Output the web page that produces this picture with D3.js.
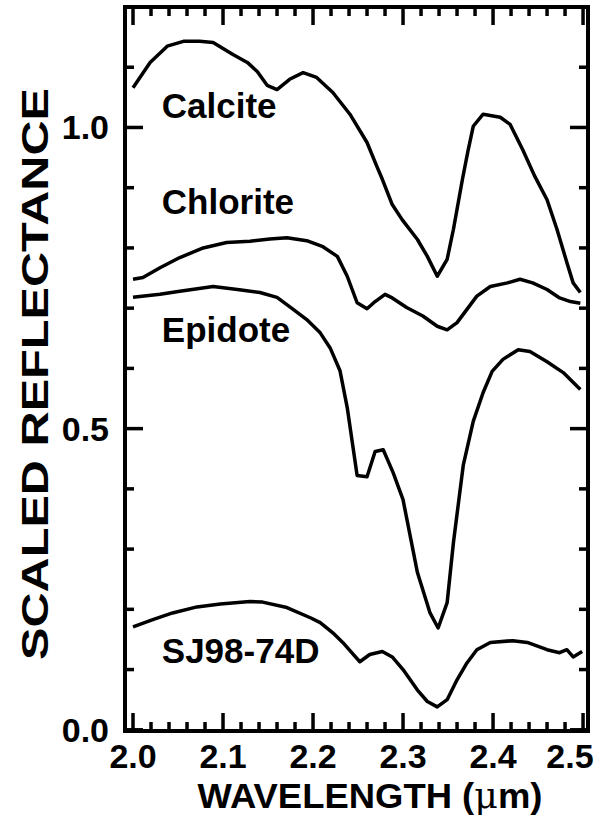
<!DOCTYPE html>
<html>
<head>
<meta charset="utf-8">
<script src="https://cdn.jsdelivr.net/npm/d3@7"></script>
<style>
  body { margin: 0; background: #fff; }
  text { font-family: "Liberation Sans", Arial, Helvetica, sans-serif; font-weight: bold; fill: #000; }
</style>
</head>
<body>
<div id="chart"></div>
<script>
// data: [wavelength (um), scaled reflectance]
const calcite = [
	[2.000, 1.066], [2.019, 1.108], [2.038, 1.135], [2.056, 1.143], [2.074, 1.143],
	[2.089, 1.141], [2.111, 1.121], [2.127, 1.108], [2.138, 1.093], [2.149, 1.070],
	[2.160, 1.063], [2.174, 1.080], [2.189, 1.091], [2.204, 1.083], [2.222, 1.058],
	[2.241, 1.022], [2.260, 0.975], [2.271, 0.935], [2.277, 0.914], [2.288, 0.872],
	[2.299, 0.847], [2.316, 0.814], [2.327, 0.786], [2.338, 0.753], [2.349, 0.781],
	[2.356, 0.831], [2.366, 0.914], [2.372, 0.960], [2.378, 1.002], [2.389, 1.022],
	[2.408, 1.017], [2.419, 1.005], [2.433, 0.963], [2.446, 0.920], [2.460, 0.880],
	[2.471, 0.831], [2.482, 0.776], [2.489, 0.742], [2.497, 0.726]
];
const chlorite = [
	[2.000, 0.748], [2.011, 0.751], [2.030, 0.767], [2.052, 0.784], [2.078, 0.800],
	[2.104, 0.809], [2.130, 0.811], [2.152, 0.815], [2.171, 0.817], [2.193, 0.812],
	[2.211, 0.802], [2.227, 0.786], [2.238, 0.753], [2.249, 0.709], [2.260, 0.699],
	[2.269, 0.711], [2.280, 0.723], [2.288, 0.717], [2.304, 0.701], [2.322, 0.687],
	[2.338, 0.670], [2.349, 0.664], [2.360, 0.676], [2.371, 0.698], [2.382, 0.720],
	[2.397, 0.736], [2.416, 0.742], [2.430, 0.748], [2.444, 0.742], [2.460, 0.731],
	[2.474, 0.717], [2.486, 0.711], [2.497, 0.708]
];
const epidote = [
	[2.000, 0.718], [2.030, 0.723], [2.052, 0.728], [2.089, 0.736], [2.116, 0.731],
	[2.141, 0.726], [2.160, 0.718], [2.178, 0.698], [2.193, 0.681], [2.208, 0.659],
	[2.219, 0.634], [2.230, 0.596], [2.238, 0.535], [2.249, 0.422], [2.260, 0.420],
	[2.269, 0.462], [2.278, 0.465], [2.289, 0.427], [2.300, 0.382], [2.316, 0.261],
	[2.330, 0.194], [2.339, 0.169], [2.349, 0.211], [2.356, 0.311], [2.367, 0.440],
	[2.378, 0.512], [2.389, 0.560], [2.399, 0.595], [2.411, 0.615], [2.428, 0.631],
	[2.441, 0.628], [2.460, 0.611], [2.478, 0.593], [2.497, 0.565]
];
const sj98 = [
	[2.000, 0.171], [2.022, 0.183], [2.044, 0.194], [2.071, 0.204], [2.097, 0.209],
	[2.130, 0.213], [2.144, 0.212], [2.171, 0.203], [2.197, 0.186], [2.208, 0.178],
	[2.222, 0.161], [2.233, 0.145], [2.243, 0.128], [2.252, 0.113], [2.263, 0.125],
	[2.277, 0.130], [2.288, 0.121], [2.300, 0.100], [2.316, 0.066], [2.327, 0.047],
	[2.338, 0.038], [2.349, 0.050], [2.360, 0.083], [2.371, 0.111], [2.382, 0.133],
	[2.397, 0.145], [2.422, 0.148], [2.438, 0.145], [2.460, 0.133], [2.474, 0.128],
	[2.482, 0.133], [2.489, 0.121], [2.499, 0.130]
];

const seriesNames = ["Calcite", "Chlorite", "Epidote", "SJ98-74D"];
const seriesData = [calcite, chlorite, epidote, sj98];
// label anchor (wavelength, reflectance) for each series name
const labelPos = [[2.032, 1.015], [2.032, 0.857], [2.032, 0.643], [2.032, 0.111]];

const xMajor = [2.0, 2.1, 2.2, 2.3, 2.4, 2.5];
const yMajor = [0.0, 0.5, 1.0];

const width = 608, height = 815;

const svg = d3.select("#chart")
	.append("svg")
	.attr("width", width)
	.attr("height", height);

const x = d3.scaleLinear().domain([1.9911, 2.5055]).range([125, 588]);
const y = d3.scaleLinear().domain([-0.002, 1.2]).range([731, 7]);

// minor ticks every 0.02 on x, 0.1 on y
const xMinor = d3.range(0, 26).map(i => +(2.0 + i * 0.02).toFixed(2)).filter(v => !xMajor.some(m => Math.abs(m - v) < 1e-6));
const yMinor = d3.range(0, 12).map(i => +(i * 0.1).toFixed(1)).filter(v => !yMajor.some(m => Math.abs(m - v) < 1e-6));

const majorLen = 18, minorLen = 9;
const x0 = x.range()[0], x1 = x.range()[1];
const y0 = y.range()[0], y1 = y.range()[1];

const ticks = svg.append("g")
	.attr("stroke", "#000")
	.attr("stroke-width", 3.5);

function xTick(v, len) {
	ticks.append("line").attr("x1", x(v)).attr("x2", x(v)).attr("y1", y0).attr("y2", y0 - len);
	ticks.append("line").attr("x1", x(v)).attr("x2", x(v)).attr("y1", y1).attr("y2", y1 + len);
}
function yTick(v, len) {
	ticks.append("line").attr("x1", x0).attr("x2", x0 + len).attr("y1", y(v)).attr("y2", y(v));
	ticks.append("line").attr("x1", x1).attr("x2", x1 - len).attr("y1", y(v)).attr("y2", y(v));
}
xMajor.forEach(v => xTick(v, majorLen));
xMinor.forEach(v => xTick(v, minorLen));
yMajor.forEach(v => yTick(v, majorLen));
yMinor.forEach(v => yTick(v, minorLen));

// frame
svg.append("rect")
	.attr("x", x0)
	.attr("y", y1)
	.attr("width", x1 - x0)
	.attr("height", y0 - y1)
	.attr("fill", "none")
	.attr("stroke", "#000")
	.attr("stroke-width", 4);

// tick labels
svg.append("g")
	.selectAll("text")
	.data(xMajor)
	.enter()
	.append("text")
	.attr("x", d => Math.min(x(d), 570))
	.attr("y", 768)
	.attr("text-anchor", "middle")
	.attr("font-size", 34)
	.text(d => d.toFixed(1));

svg.append("g")
	.selectAll("text")
	.data(yMajor)
	.enter()
	.append("text")
	.attr("x", 109)
	.attr("y", d => y(d) + 12)
	.attr("text-anchor", "end")
	.attr("font-size", 34)
	.text(d => d.toFixed(1));

// axis titles
const xTitle = svg.append("text")
	.attr("x", 370)
	.attr("y", 808)
	.attr("text-anchor", "middle")
	.attr("font-size", 35)
	.attr("textLength", 345)
	.attr("lengthAdjust", "spacingAndGlyphs");
xTitle.append("tspan").text("WAVELENGTH (");
xTitle.append("tspan")
	.style("font-family", "'DejaVu Serif', 'Liberation Serif', serif")
	.style("font-weight", "normal")
	.text("\u03BC");
xTitle.append("tspan").text("m)");

svg.append("text")
	.attr("transform", "translate(48, 374) rotate(-90)")
	.attr("text-anchor", "middle")
	.attr("font-size", 37)
	.attr("textLength", 572)
	.attr("lengthAdjust", "spacingAndGlyphs")
	.text("SCALED REFLECTANCE");

// spectra
const line = d3.line()
	.x(d => x(d[0]))
	.y(d => y(d[1]));

svg.append("g")
	.selectAll("path")
	.data(seriesData)
	.enter()
	.append("path")
	.attr("d", line)
	.attr("fill", "none")
	.attr("stroke", "#000")
	.attr("stroke-width", 3.5)
	.attr("stroke-linejoin", "round");

svg.append("g")
	.selectAll("text")
	.data(seriesNames)
	.enter()
	.append("text")
	.attr("x", (d, i) => x(labelPos[i][0]))
	.attr("y", (d, i) => y(labelPos[i][1]))
	.attr("font-size", 35)
	.text(d => d);
</script>
</body>
</html>
